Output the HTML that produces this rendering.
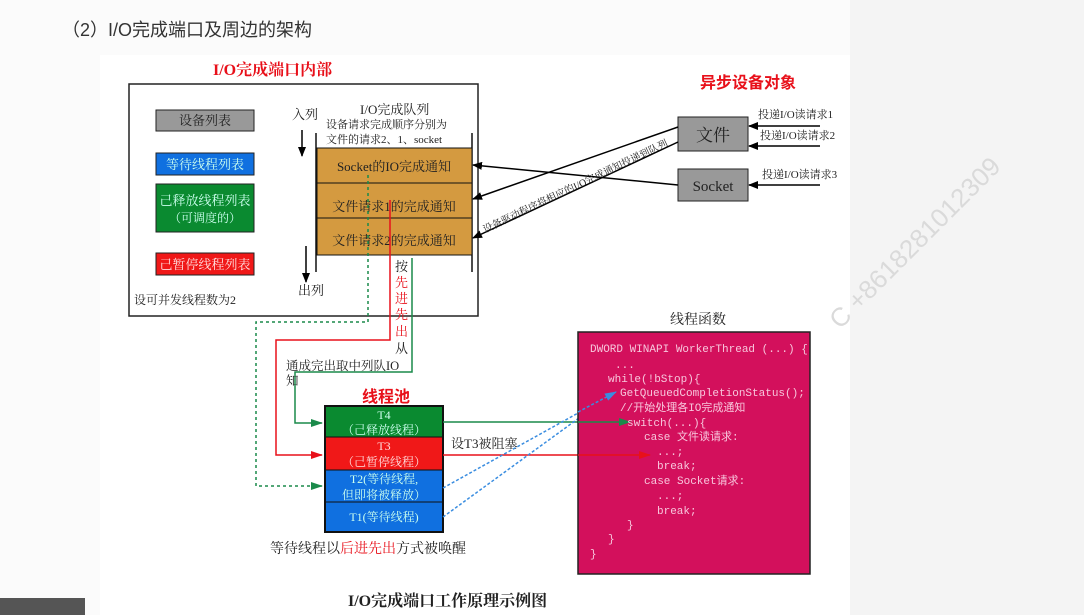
<!DOCTYPE html>
<html><head><meta charset="utf-8"><style>
html,body{margin:0;padding:0;background:#fff}
svg{display:block}
text{font-family:"Liberation Serif","Noto Serif CJK SC","Noto Sans CJK SC",serif}
.s{font-family:"Liberation Sans","Noto Sans CJK SC",sans-serif}
.m{font-family:"Liberation Mono","Noto Sans CJK SC",monospace;font-size:11px;fill:#f7c6dc}
</style></head><body>
<svg width="1084" height="615" viewBox="0 0 1084 615" xmlns="http://www.w3.org/2000/svg">
<defs>
<marker id="ab" markerWidth="10" markerHeight="8" refX="9" refY="4" orient="auto" markerUnits="userSpaceOnUse"><path d="M0,0 L10,4 L0,8z" fill="#000"/></marker>
<marker id="ag" markerWidth="12" markerHeight="8" refX="11" refY="4" orient="auto" markerUnits="userSpaceOnUse"><path d="M0,0 L12,4 L0,8z" fill="#1a8a4a"/></marker>
<marker id="ar" markerWidth="12" markerHeight="8" refX="11" refY="4" orient="auto" markerUnits="userSpaceOnUse"><path d="M0,0 L12,4 L0,8z" fill="#e8101a"/></marker>
<marker id="al" markerWidth="12" markerHeight="8" refX="11" refY="4" orient="auto" markerUnits="userSpaceOnUse"><path d="M0,0 L12,4 L0,8z" fill="#3a8de0"/></marker>
</defs>
<rect x="0" y="0" width="1084" height="615" fill="#fbfbfb"/>
<rect x="100" y="55" width="750" height="560" fill="#fff"/>
<rect x="850" y="0" width="234" height="615" fill="#f4f4f4"/>
<rect x="0" y="598" width="85" height="17" fill="#555"/>
<text x="62" y="36" class="s" font-size="18" fill="#333">（2）I/O完成端口及周边的架构</text>
<text x="840" y="330" class="s" font-size="26" fill="#dadada" transform="rotate(-45 840 330)">C +8618281012309</text>

<text x="213" y="75" font-size="16" font-weight="bold" fill="#e8101a">I/O完成端口内部</text>
<rect x="129" y="84" width="349" height="232" fill="#fff" stroke="#222" stroke-width="1.5"/>
<rect x="156" y="110" width="98" height="21" fill="#999" stroke="#222"/>
<text x="205" y="125" text-anchor="middle" font-size="13" fill="#222">设备列表</text>
<rect x="156" y="153" width="98" height="22" fill="#1070e0" stroke="#222"/>
<text x="205" y="169" text-anchor="middle" font-size="13" fill="#cfe">等待线程列表</text>
<rect x="156" y="184" width="98" height="48" fill="#0a8a30" stroke="#222"/>
<text x="205" y="205" text-anchor="middle" font-size="13" fill="#cfe">己释放线程列表</text>
<text x="205" y="222" text-anchor="middle" font-size="12" fill="#cfe">（可调度的）</text>
<rect x="156" y="253" width="98" height="22" fill="#f01818" stroke="#222"/>
<text x="205" y="269" text-anchor="middle" font-size="13" fill="#fdd">己暂停线程列表</text>
<text x="134" y="304" font-size="12" fill="#222">设可并发线程数为2</text>

<text x="292" y="119" font-size="13" fill="#222">入列</text>
<line x1="302" y1="130" x2="302" y2="156" stroke="#000" stroke-width="1.5" marker-end="url(#ab)"/>
<text x="298" y="295" font-size="13" fill="#222">出列</text>
<line x1="306" y1="246" x2="306" y2="282" stroke="#000" stroke-width="1.5" marker-end="url(#ab)"/>
<text x="360" y="114" font-size="13" fill="#222">I/O完成队列</text>
<text x="326" y="128" font-size="11" fill="#222">设备请求完成顺序分别为</text>
<text x="326" y="143" font-size="11" fill="#222">文件的请求2、1、socket</text>
<line x1="316" y1="133" x2="316" y2="272" stroke="#111" stroke-width="1.5"/>
<line x1="472" y1="133" x2="472" y2="272" stroke="#111" stroke-width="1.5"/>
<rect x="317" y="148" width="155" height="35" fill="#d49a40" stroke="#111"/>
<rect x="317" y="183" width="155" height="35" fill="#d49a40" stroke="#111"/>
<rect x="317" y="218" width="155" height="37" fill="#d49a40" stroke="#111"/>
<text x="394" y="171" text-anchor="middle" font-size="13" fill="#222">Socket的IO完成通知</text>
<text x="394" y="211" text-anchor="middle" font-size="13" fill="#222">文件请求1的完成通知</text>
<text x="394" y="245" text-anchor="middle" font-size="13" fill="#222">文件请求2的完成通知</text>

<text x="700" y="88" class="s" font-size="16" font-weight="bold" fill="#e8101a">异步设备对象</text>
<rect x="678" y="117" width="70" height="34" fill="#999" stroke="#222"/>
<text x="713" y="141" text-anchor="middle" font-size="17" fill="#222">文件</text>
<rect x="678" y="169" width="70" height="32" fill="#999" stroke="#222"/>
<text x="713" y="191" text-anchor="middle" font-size="15" fill="#222">Socket</text>
<text x="758" y="118" font-size="11" fill="#222">投递I/O读请求1</text>
<text x="760" y="139" font-size="11" fill="#222">投递I/O读请求2</text>
<text x="762" y="178" font-size="11" fill="#222">投递I/O读请求3</text>
<line x1="820" y1="126" x2="749" y2="126" stroke="#000" stroke-width="1.5" marker-end="url(#ab)"/>
<line x1="820" y1="146" x2="749" y2="146" stroke="#000" stroke-width="1.5" marker-end="url(#ab)"/>
<line x1="820" y1="185" x2="749" y2="185" stroke="#000" stroke-width="1.5" marker-end="url(#ab)"/>
<line x1="678" y1="185" x2="473" y2="165" stroke="#000" stroke-width="1.5" marker-end="url(#ab)"/>
<line x1="678" y1="127" x2="473" y2="199" stroke="#000" stroke-width="1.5" marker-end="url(#ab)"/>
<line x1="678" y1="142" x2="473" y2="238" stroke="#000" stroke-width="1.5" marker-end="url(#ab)"/>
<text x="485" y="233" font-size="10" fill="#222" transform="rotate(-25.5 485 233)">设备驱动程序将相应的I/O完成通知投递到队列</text>

<polyline points="368,175 368,322 256,322 256,486 322,486" fill="none" stroke="#1a8a4a" stroke-width="1.5" stroke-dasharray="3,3" marker-end="url(#ag)"/>
<polyline points="390,200 390,340 276,340 276,455 322,455" fill="none" stroke="#e8101a" stroke-width="1.5" marker-end="url(#ar)"/>
<polyline points="412,258 412,372 295,372 295,423 322,423" fill="none" stroke="#1a8a4a" stroke-width="1.5" marker-end="url(#ag)"/>
<text x="395" y="271" font-size="13" fill="#222">按</text>
<text x="395" y="287" font-size="13" fill="#e8101a">先</text>
<text x="395" y="303" font-size="13" fill="#e8101a">进</text>
<text x="395" y="319" font-size="13" fill="#e8101a">先</text>
<text x="395" y="336" font-size="13" fill="#e8101a">出</text>
<text x="395" y="353" font-size="13" fill="#222">从</text>
<text x="286" y="370" font-size="12.5" fill="#222">通成完出取中列队IO</text>
<text x="286" y="385" font-size="12.5" fill="#222">知</text>

<text x="362" y="402" class="s" font-size="16" font-weight="bold" fill="#e8101a">线程池</text>
<rect x="325" y="406" width="118" height="31" fill="#0a8a30" stroke="#111"/>
<rect x="325" y="437" width="118" height="33" fill="#f01818" stroke="#111"/>
<rect x="325" y="470" width="118" height="32" fill="#1070e0" stroke="#111"/>
<rect x="325" y="502" width="118" height="30" fill="#1070e0" stroke="#111"/>
<rect x="325" y="406" width="118" height="126" fill="none" stroke="#111" stroke-width="2"/>
<g font-size="12" fill="#cfe" text-anchor="middle">
<text x="384" y="419">T4</text><text x="384" y="434">（己释放线程）</text>
<text x="384" y="450" fill="#fdd">T3</text><text x="384" y="466" fill="#fdd">（己暂停线程）</text>
<text x="384" y="483">T2(等待线程,</text><text x="384" y="499">但即将被释放）</text>
<text x="384" y="521">T1(等待线程)</text>
</g>
<text x="270" y="553" font-size="14" fill="#222">等待线程以<tspan fill="#e8101a">后进先出</tspan>方式被唤醒</text>

<line x1="443" y1="422" x2="584" y2="422" stroke="#1a8a4a" stroke-width="1.5"/>
<line x1="443" y1="455" x2="640" y2="455" stroke="#e8101a" stroke-width="1.5" marker-end="url(#ar)"/>
<text x="451" y="448" font-size="13" fill="#222">设T3被阻塞</text>
<line x1="443" y1="488" x2="616" y2="392" stroke="#3a8de0" stroke-width="1.5" stroke-dasharray="3,2" marker-end="url(#al)"/>
<line x1="443" y1="517" x2="612" y2="394" stroke="#3a8de0" stroke-width="1.5" stroke-dasharray="3,2" marker-end="url(#al)"/>

<text x="670" y="324" font-size="14" fill="#222">线程函数</text>
<rect x="578" y="332" width="232" height="242" fill="#d3105c" stroke="#222" stroke-width="1.5"/>
<line x1="578" y1="422" x2="630" y2="422" stroke="#1a8a4a" stroke-width="1.5" marker-end="url(#ag)"/>
<line x1="578" y1="455" x2="650" y2="455" stroke="#e8101a" stroke-width="1.5" marker-end="url(#ar)"/>
<line x1="578" y1="412" x2="616" y2="392" stroke="#3a8de0" stroke-width="1.5" stroke-dasharray="3,2" marker-end="url(#al)"/>
<text x="590" y="352" class="m">DWORD WINAPI WorkerThread (...) {</text>
<text x="615" y="368" class="m">...</text>
<text x="608" y="382" class="m">while(!bStop){</text>
<text x="620" y="396" class="m" fill="#ff8a3a">GetQueuedCompletionStatus();</text>
<text x="620" y="411" class="m">//开始处理各IO完成通知</text>
<text x="627" y="426" class="m">switch(...){</text>
<text x="644" y="440" class="m">case 文件读请求:</text>
<text x="657" y="455" class="m">...;</text>
<text x="657" y="469" class="m">break;</text>
<text x="644" y="484" class="m">case Socket请求:</text>
<text x="657" y="499" class="m">...;</text>
<text x="657" y="514" class="m">break;</text>
<text x="627" y="528" class="m">}</text>
<text x="608" y="542" class="m">}</text>
<text x="590" y="557" class="m">}</text>

<text x="348" y="606" font-size="16" font-weight="bold" fill="#222">I/O完成端口工作原理示例图</text>
</svg>
</body></html>
